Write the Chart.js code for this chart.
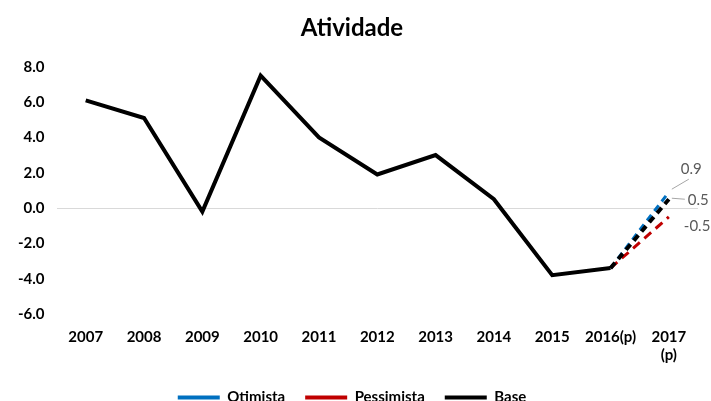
<!DOCTYPE html>
<html>
<head>
<meta charset="utf-8">
<script src="https://cdn.jsdelivr.net/npm/chart.js@4"></script>
<style>
	body{ margin:0; background:#fff; overflow:hidden; }
	.wrap{ width:711px; height:415px; }
</style>
</head>
<body>
<div class="wrap"><canvas id="myChart"></canvas></div>
<script>
// 데이터
const anos = ['2007','2008','2009','2010','2011','2012','2013','2014','2015','2016(p)',['2017','(p)']]
const base = [6.1, 5.1, -0.2, 7.5, 4.0, 1.9, 3.0, 0.5, -3.8, -3.4, 0.5]
const otimista = [null, null, null, null, null, null, null, null, null, -3.4, 0.9]
const pessimista = [null, null, null, null, null, null, null, null, null, -3.4, -0.5]
const rotulos = ['0.9', '-0.5', '0.5']   // 2017 라벨

const fonte = 'Lato'

// 2017 값 라벨 + 연결선
const rotuloPlugin = {
	id : 'rotulo',
	afterDatasetsDraw( chart ){
		const c = chart.ctx
		c.save()
		c.font = '15px ' + fonte
		c.fillStyle = '#595959'
		c.strokeStyle = '#a6a6a6'
		c.lineWidth = 1
		c.textBaseline = 'middle'
		let p0 = chart.getDatasetMeta(0).data[10]
		let p1 = chart.getDatasetMeta(1).data[10]
		let p2 = chart.getDatasetMeta(2).data[10]
		// 0.9
		c.beginPath(); c.moveTo(p0.x+3, p0.y-3); c.lineTo(p0.x+20, p0.y-13); c.stroke()
		c.fillText(rotulos[0], p0.x+12, p0.y-23)
		// 0.5
		c.beginPath(); c.moveTo(p2.x+3, p2.y-1); c.lineTo(p2.x+16, p2.y); c.stroke()
		c.fillText(rotulos[2], p2.x+19, p2.y+1)
		// -0.5
		c.fillText(rotulos[1], p1.x+15, p1.y+9)
		c.restore()
	}
}

const ctx = document.getElementById('myChart');

new Chart(ctx, {
	type : 'line',
	data : {
		labels : anos,
		datasets : [
			{ label : 'Otimista', data : otimista, borderColor : '#0070c0', backgroundColor : '#0070c0',
				borderWidth : 3, borderDash : [7,5], pointRadius : 0, order : 2 },
			{ label : 'Pessimista', data : pessimista, borderColor : '#c00000', backgroundColor : '#c00000',
				borderWidth : 3, borderDash : [9,6], pointRadius : 0, order : 3 },
			{ label : 'Base', data : base, borderColor : '#000', backgroundColor : '#000',
				borderWidth : 4, pointRadius : 0, order : 1,
				segment : { borderDash : (s) => s.p0DataIndex == 9 ? [7,5] : undefined } }
		]
	},
	options : {
		responsive : true,
		maintainAspectRatio : false,
		animation : false,
		layout : { padding : { left : 6, right : 13, top : 0, bottom : 0 } },
		plugins : {
			title : { display : true, text : 'Atividade', color : '#000',
				font : { family : fonte, size : 24, weight : 'bold' }, padding : { top : 14, bottom : 24 } },
			legend : { position : 'bottom',
				labels : { color : '#000', boxWidth : 42, boxHeight : 4, padding : 20,
					font : { family : fonte, size : 15, weight : 'bold' },
					// 범례는 데이터셋 순서대로, 실선으로
					generateLabels : (chart) => chart.data.datasets.map( (d,i) => ({
						text : d.label, fillStyle : d.borderColor, strokeStyle : d.borderColor,
						lineWidth : 0, lineDash : [], fontColor : '#000', datasetIndex : i, hidden : false
					}))
				},
				sort : (a,b) => a.datasetIndex - b.datasetIndex
			},
			tooltip : { enabled : false }
		},
		scales : {
			x : {
				offset : true,
				grid : { display : false },
				border : { display : false },
				ticks : { color : '#000', maxRotation : 0, autoSkip : false, padding : 6,
					font : { family : fonte, size : 15, weight : 'bold' } }
			},
			y : {
				min : -6, max : 8,
				ticks : { stepSize : 2, color : '#000', padding : 12,
					callback : (v) => v.toFixed(1),
					font : { family : fonte, size : 15, weight : 'bold' } },
				grid : { drawTicks : false, lineWidth : 1,
					color : (c) => c.tick && c.tick.value == 0 ? '#d9d9d9' : 'rgba(0,0,0,0)' },
				border : { display : false }
			}
		}
	},
	plugins : [rotuloPlugin]
});
</script>
</body>
</html>
